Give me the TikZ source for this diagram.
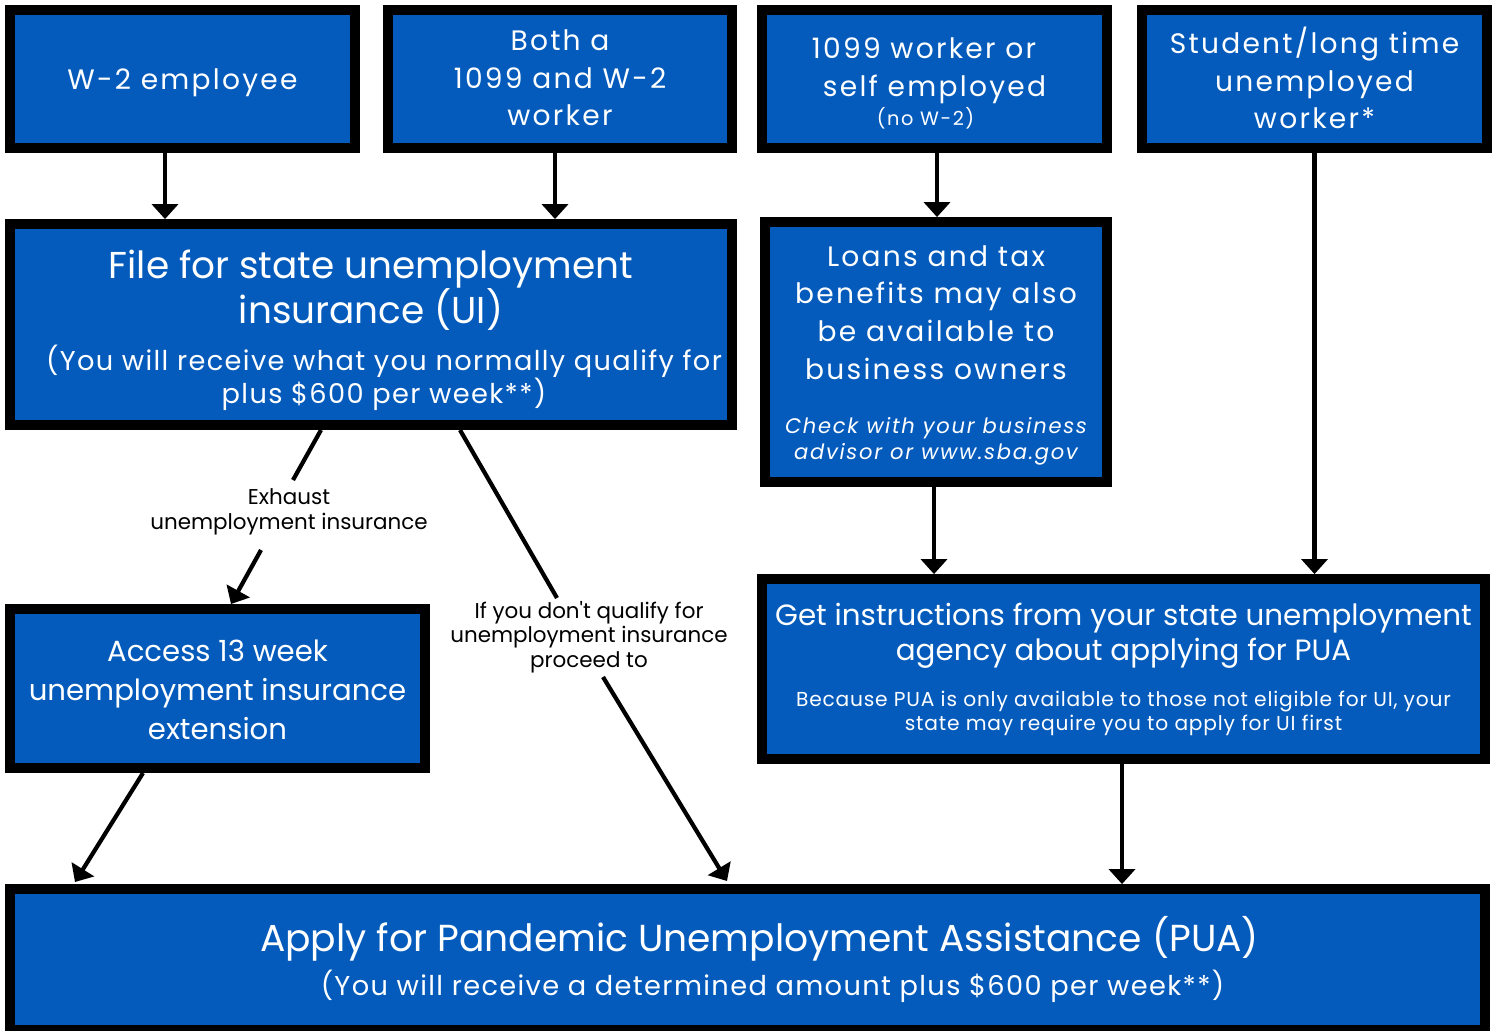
\documentclass[tikz,border=0pt]{standalone}
\usepackage{fontspec}
\setmainfont{Poppins}
\usetikzlibrary{arrows.meta}
\definecolor{puablue}{HTML}{045BBC}

% Fonts for the boxes
\newcommand{\topfont}{\fontsize{16}{21.5}\selectfont\addfontfeatures{LetterSpace=8}}
\newcommand{\headfont}{\fontsize{21.3}{25}\selectfont}
\newcommand{\subfont}{\fontsize{15.5}{19.5}\selectfont\addfontfeatures{LetterSpace=5}}
\newcommand{\notefont}{\fontsize{11}{14}\selectfont\addfontfeatures{LetterSpace=8}}
\newcommand{\itnotefont}{\fontsize{12}{14}\selectfont\itshape\addfontfeatures{LetterSpace=8}}
\newcommand{\agencyfont}{\fontsize{16.7}{20}\selectfont}
\newcommand{\smallfont}{\fontsize{11.5}{14}\selectfont\addfontfeatures{LetterSpace=4}}
\newcommand{\pualarge}{\fontsize{21.4}{26}\selectfont}

\begin{document}
\begin{tikzpicture}[x=0.02cm, y=-0.02cm,
    box/.style = {draw=black, fill=puablue, line width=5.6pt, text=white, align=center, inner sep=0pt,
                  text depth=0pt, execute at begin node={\lineskiplimit=-50pt}},
    lastline/.style = {text height=#1},
    conn/.style = {line width=2.4pt},
    arr/.style = {conn, -{Triangle[width=0.52cm, length=0.3cm]}},
    lbl/.style = {align=center, inner sep=0pt, font=\fontsize{12.2}{13.9}\selectfont}]

    \useasboundingbox (0,0) rectangle (1496,1030);

    % Top row
    \node[box, lastline=0.44cm, minimum width=6.9cm, minimum height=2.76cm, font=\topfont] (w2) at (182.5,79) {W-2 employee};
    \node[box, lastline=1.88cm, minimum width=6.88cm, minimum height=2.76cm, font=\topfont] (both) at (560,79) {Both a\\1099 and W-2\\worker};
    \node[box, lastline=1.88cm, minimum width=6.9cm, minimum height=2.76cm, font=\topfont] (n1099) at (934.5,79)
        {1099 worker or\hspace*{0.42cm}\\self employed\hspace*{0.4cm}\\[-4.5pt]\notefont (no W-2)\hspace*{0.36cm}};
    \node[box, lastline=2.0cm, minimum width=6.9cm, minimum height=2.76cm, font=\topfont] (student) at (1314.5,79) {Student/long time\\unemployed\\worker*};

    % Middle row
    \node[box, lastline=3.18cm, minimum width=14.44cm, minimum height=4.02cm, font=\fontsize{15.5}{19.3}\selectfont] (file) at (371,324.5)
        {\headfont File for state unemployment\\[6.2pt]\headfont insurance (UI)\\[7.4pt]\subfont\hspace*{0.52cm}(You will receive what you normally qualify for\\\subfont\hspace*{0.52cm}plus \$600 per week**)};
    \node[box, lastline=4.32cm, minimum width=6.84cm, minimum height=5.2cm, font=\topfont] (loans) at (936,352)
        {Loans and tax\\benefits may also\\be available to\\business owners\\[9.4pt]\itnotefont Check with your business\\[-6.5pt]\itnotefont advisor or www.sba.gov};

    % Lower row
    \node[box, lastline=2.06cm, minimum width=8.3cm, minimum height=3.18cm, font=\fontsize{16.6}{22.4}\selectfont] (access) at (217.5,688.5)
        {Access 13 week\\unemployment insurance\\extension};
    \node[box, lastline=2.48cm, minimum width=14.46cm, minimum height=3.6cm, font=\fontsize{16.7}{19.8}\selectfont] (agency) at (1123.5,669)
        {\agencyfont Get instructions from your state unemployment\\\agencyfont agency about applying for PUA\\[6.2pt]\smallfont Because PUA is only available to those not eligible for UI, your\\[-5.7pt]\smallfont state may require you to apply for UI first};
    \node[box, lastline=1.42cm, minimum width=29.5cm, minimum height=2.82cm, font=\fontsize{15.5}{24.9}\selectfont] (apply) at (747.5,959.5)
        {\pualarge\hspace*{0.48cm}Apply for Pandemic Unemployment Assistance (PUA)\\\subfont\hspace*{1.0cm}(You will receive a determined amount plus \$600 per week**)};

    % Labels on the arrows
    \node[lbl] (exhaust) at (289,512) {Exhaust\\unemployment insurance};
    \node[lbl] (noqual) at (589,637) {If you don\textquotesingle t qualify for\\unemployment insurance\\proceed to};

    % Free ends of the split arrows
    \coordinate (ex1) at (321,430);
    \coordinate (ex2) at (293,480);
    \coordinate (ex3) at (261,550);
    \coordinate (ex4) at (231,604);
    \coordinate (nq1) at (460,430);
    \coordinate (nq2) at (557,598);
    \coordinate (nq3) at (603,677);
    \coordinate (nq4) at (727,881);
    \coordinate (ac1) at (143,773);
    \coordinate (ac2) at (75,882);

    % Arrows
    \draw[arr] ([xshift=-0.35cm]w2.south) -- ([xshift=-0.35cm]w2.south |- file.north);
    \draw[arr] ([xshift=-0.1cm]both.south) -- ([xshift=-0.1cm]both.south |- file.north);
    \draw[arr] ([xshift=0.05cm]n1099.south) -- ([xshift=0.05cm]n1099.south |- loans.north);
    \draw[arr] (student.south) -- (student.south |- agency.north);
    \draw[arr] ([xshift=-0.04cm]loans.south) -- ([xshift=-0.04cm]loans.south |- agency.north);
    \draw[arr] ([xshift=-0.03cm]agency.south) -- ([xshift=-0.03cm]agency.south |- apply.north);
    \draw[conn] (ex1) -- (ex2);
    \draw[arr] (ex3) -- (ex4);
    \draw[conn] (nq1) -- (nq2);
    \draw[arr] (nq3) -- (nq4);
    \draw[arr] (ac1) -- (ac2);
\end{tikzpicture}
\end{document}
